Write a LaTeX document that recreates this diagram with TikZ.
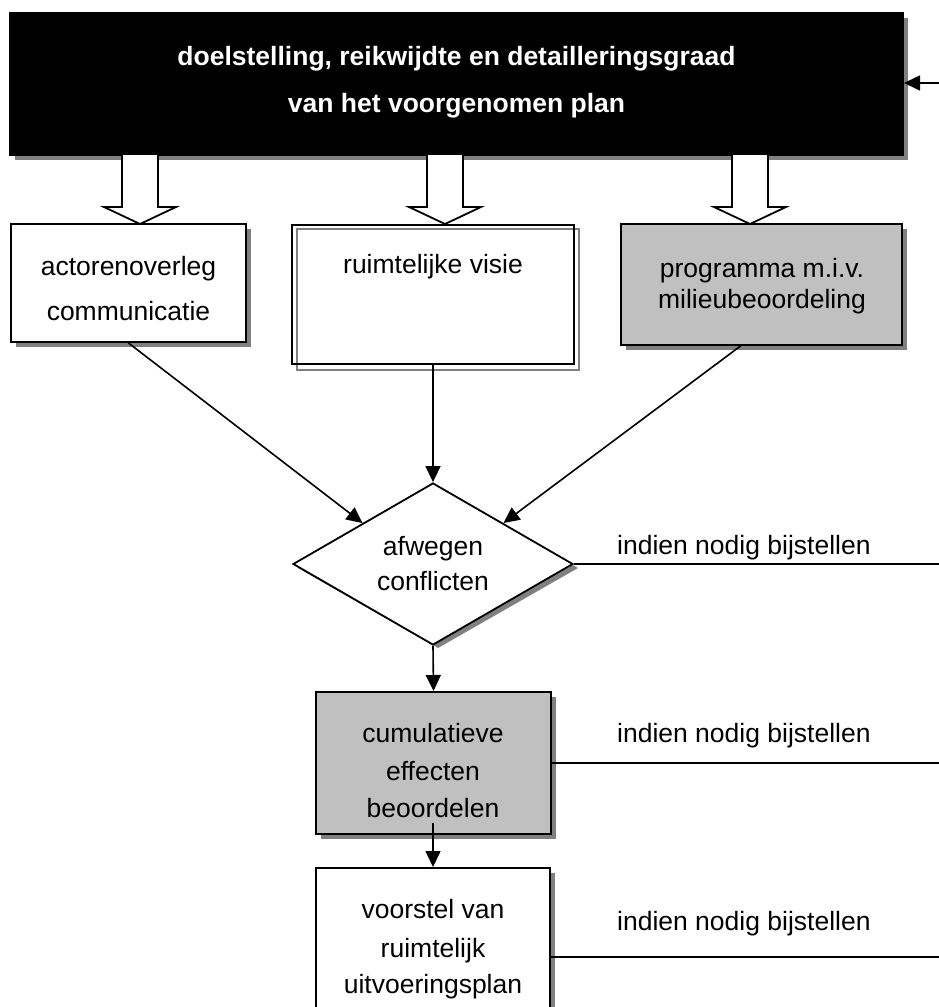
\documentclass[tikz,border=0pt]{standalone}
\usepackage{fontspec}
\setmainfont{Liberation Sans}
\usetikzlibrary{arrows.meta,shapes.geometric,calc}
\definecolor{shade}{HTML}{808080}
\definecolor{boxgray}{HTML}{C0C0C0}
\tikzset{
  txt/.style={font=\fontsize{26.5}{32}\selectfont, inner sep=0pt, anchor=base},
  wtxt/.style={txt, text=white, font=\bfseries\fontsize{26.5}{32}\selectfont},
  ltxt/.style={txt, anchor=base west},
  box/.style={draw=black, line width=2pt, rectangle, inner sep=0pt},
  shadowfill/.style={fill=shade, draw=none},
  conn/.style={line width=1.6pt, -{Triangle[length=16pt,width=15pt]}},
  plain/.style={line width=1.8pt},
  hollow/.style={draw=black, line width=1.8pt, fill=white, line join=miter},
}
\begin{document}
\begin{tikzpicture}[x=1pt,y=-1pt]
\useasboundingbox (0,0) rectangle (939,1007);
\clip (0,0) rectangle (939,1007);

% top box
\fill[shadowfill] (15,18) rectangle (908,160);
\node[box, fill=black, minimum width=893pt, minimum height=142pt] (top) at (456.5,84) {};
\node[wtxt] (title1) at (456.5,65) {doelstelling, reikwijdte en detailleringsgraad};
\node[wtxt] (title2) at (456.5,112) {van het voorgenomen plan};
\coordinate (ein) at (939,83);
\draw[conn] (ein) -- (ein -| top.east);

% hollow block arrows
\foreach \cx in {140,445,750}
  \draw[hollow] (\cx-18,155) -- (\cx-18,207) -- (\cx-36,207) -- (\cx,224)
     -- (\cx+36,207) -- (\cx+18,207) -- (\cx+18,155);

% left box
\fill[shadowfill] (16,229) rectangle (251,347);
\node[box, fill=white, minimum width=235pt, minimum height=118pt] (act) at (128.5,283) {};
\node[txt] (act1) at (128.5,275) {actorenoverleg};
\node[txt] (act2) at (128.5,320) {communicatie};

% middle box
\draw[draw=shade, line width=1.5pt] (297,229) rectangle (579,370);
\node[box, minimum width=282pt, minimum height=139pt] (vis) at (433,294.5) {};
\node[txt] (vis1) at (433,273) {ruimtelijke visie};

% right box
\fill[shadowfill] (626,229) rectangle (907,350);
\node[box, fill=boxgray, minimum width=281pt, minimum height=121pt] (prog) at (761.5,284.5) {};
\node[txt] (prog1) at (762,277) {programma m.i.v.};
\node[txt] (prog2) at (762,308) {milieubeoordeling};

% diamond
\fill[shadowfill] (298,568) -- (438,486) -- (578,568) -- (438,648) -- cycle;
\node[diamond, draw=black, line width=1.8pt, fill=white, inner sep=0pt,
      minimum width=280pt, minimum height=162pt] (dia) at (433,564) {};
\node[txt] (dia1) at (433,555) {afwegen};
\node[txt] (dia2) at (433,590) {conflicten};

\draw[conn] (act.south) -- (dia.north west);
\draw[conn] (vis.south) -- (dia.north);
\draw[conn] ($(prog.south)+(-21,0)$) -- (dia.north east);

\coordinate (r1) at (939,564);
\draw[plain] (dia.east) -- (r1);
\node[ltxt] (adj1) at (617,554) {indien nodig bijstellen};

% cumulatieve box
\fill[shadowfill] (321,697) rectangle (556,839);
\node[box, fill=boxgray, minimum width=235pt, minimum height=142pt] (cum) at (433.5,763) {};
\node[txt] (cum1) at (433,742) {cumulatieve};
\node[txt] (cum2) at (433,780) {effecten};
\node[txt] (cum3) at (433,817) {beoordelen};
\draw[conn] (dia.south) -- (cum.north);

\coordinate (r2) at (939,763);
\draw[plain] (cum.east) -- (r2);
\node[ltxt] (adj2) at (617,742) {indien nodig bijstellen};

% voorstel box
\fill[shadowfill] (321,873) rectangle (555,1025);
\node[box, fill=white, minimum width=234pt, minimum height=152pt] (voo) at (433,944) {};
\node[txt] (voo1) at (433,918) {voorstel van};
\node[txt] (voo2) at (433,957) {ruimtelijk};
\node[txt] (voo3) at (433,993) {uitvoeringsplan};
\coordinate (cs) at ($(cum.south)+(-0.5,-12)$);
\draw[conn] (cs) -- (voo.north);

\coordinate (r3) at (939,957);
\draw[plain] (r3 -| voo.east) -- (r3);
\node[ltxt] (adj3) at (617,930) {indien nodig bijstellen};
\end{tikzpicture}
\end{document}
